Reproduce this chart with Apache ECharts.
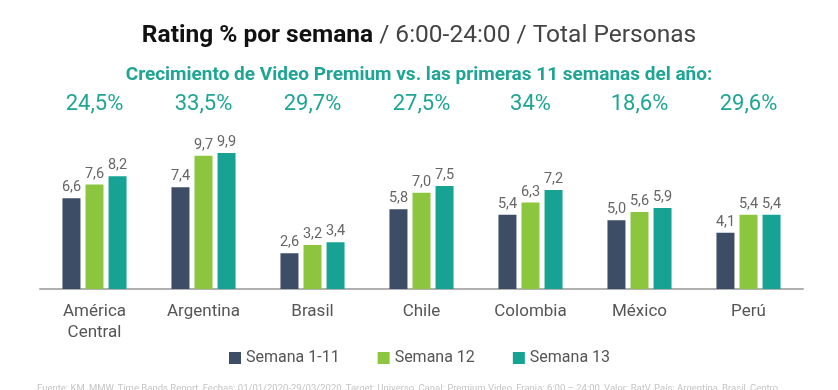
<!DOCTYPE html>
<html>
<head>
<meta charset="utf-8">
<script src="https://cdn.jsdelivr.net/npm/echarts@6/dist/echarts.min.js"></script>
<style>
html,body{margin:0;padding:0;background:#fff;}
#c{width:838px;height:390px;}
</style>
</head>
<body>
<div id="c"></div>
<script>
var categories = ['América\nCentral', 'Argentina', 'Brasil', 'Chile', 'Colombia', 'México', 'Perú'];
var growth = ['24,5%', '33,5%', '29,7%', '27,5%', '34%', '18,6%', '29,6%'];
var semana1_11 = [6.6, 7.4, 2.6, 5.8, 5.4, 5.0, 4.1];
var semana12 = [7.6, 9.7, 3.2, 7.0, 6.3, 5.6, 5.4];
var semana13 = [8.2, 9.9, 3.4, 7.5, 7.2, 5.9, 5.4];
var seriesNames = ['Semana 1-11', 'Semana 12', 'Semana 13'];

var FONT = "Roboto, 'Liberation Sans', sans-serif";
var colors = ['#3e4d66', '#8cc63f', '#16a394'];

function fmt(p) { return p.value.toFixed(1).replace('.', ','); }

function barSeries(name, data, color) {
  return {
    name: name, type: 'bar', data: data, barWidth: 18, barGap: '28%',
    itemStyle: { color: color },
    label: { show: true, position: 'top', distance: 3, formatter: fmt,
      fontFamily: FONT, fontSize: 14.5, color: '#666' }
  };
}

var chart = echarts.init(document.getElementById('c'));
chart.setOption({
  backgroundColor: '#fff',
  animation: false,
  color: colors,
  title: [
    { text: '{b|Rating % por semana}{n| / 6:00-24:00 / Total Personas}', left: 'center', top: 18,
      textStyle: { rich: {
        b: { fontFamily: FONT, fontSize: 24.5, fontWeight: 'bold', color: '#111' },
        n: { fontFamily: FONT, fontSize: 24.5, fontWeight: 'normal', color: '#444' } } } },
    { text: 'Crecimiento de Video Premium vs. las primeras 11 semanas del año:', left: 'center', top: 61,
      textStyle: { fontFamily: FONT, fontSize: 19, fontWeight: 'bold', color: '#1fa594' } }
  ],
  legend: {
    data: seriesNames, top: 345, left: 224, itemWidth: 12, itemHeight: 12, itemGap: 38,
    icon: 'rect',
    textStyle: { fontFamily: FONT, fontSize: 16, color: '#555' }
  },
  grid: { left: 40, right: 35, top: 151.5, bottom: 101 },
  xAxis: [
    { type: 'category', data: categories, position: 'bottom',
      axisLine: { lineStyle: { color: '#b0b0b0', width: 2 } }, axisTick: { show: false },
      axisLabel: { fontFamily: FONT, fontSize: 17, color: '#555', margin: 12, lineHeight: 21, interval: 0 } },
    { type: 'category', data: growth, position: 'top', offset: 28,
      axisLine: { show: false }, axisTick: { show: false },
      axisLabel: { fontFamily: FONT, fontSize: 22, color: '#1fa594', margin: 8, interval: 0 } }
  ],
  yAxis: { type: 'value', min: 0, max: 10, show: false, splitLine: { show: false } },
  graphic: [
    { type: 'text', left: 37, top: 384,
      style: { text: 'Fuente: KM, MMW, Time Bands Report, Fechas: 01/01/2020-29/03/2020, Target: Universo, Canal: Premium Video, Franja: 6:00 – 24:00, Valor: RatV, País: Argentina, Brasil, Centro',
        fontFamily: FONT, fontSize: 9.5, fill: '#c4c4c4' } }
  ],
  series: [
    barSeries(seriesNames[0], semana1_11, colors[0]),
    barSeries(seriesNames[1], semana12, colors[1]),
    barSeries(seriesNames[2], semana13, colors[2])
  ]
});
</script>
</body>
</html>
